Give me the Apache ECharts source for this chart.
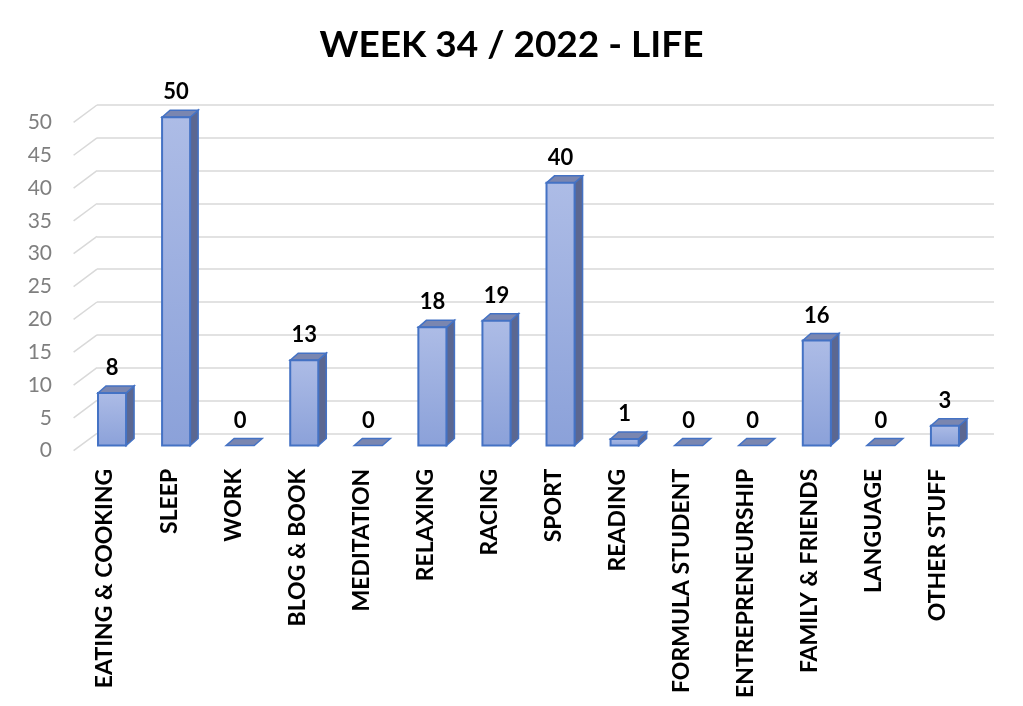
<!DOCTYPE html>
<html>
<head>
<meta charset="utf-8">
<title>WEEK 34 / 2022 - LIFE</title>
<script src="https://cdn.jsdelivr.net/npm/echarts@6/dist/echarts.min.js"></script>
<style>
	html, body { margin: 0; padding: 0; background: #fff; }
	#chart { width: 1023px; height: 706px; }
</style>
</head>
<body>
<div id="chart"></div>
<script>
	// categories and hours of the week
	var categories = ['EATING & COOKING', 'SLEEP', 'WORK', 'BLOG & BOOK', 'MEDITATION', 'RELAXING', 'RACING',
		'SPORT', 'READING', 'FORMULA STUDENT', 'ENTREPRENEURSHIP', 'FAMILY & FRIENDS', 'LANGUAGE', 'OTHER STUFF']
	var hours = [8, 50, 0, 13, 0, 18, 19, 40, 1, 0, 0, 16, 0, 3]
	var yTicks = [0, 5, 10, 15, 20, 25, 30, 35, 40, 45, 50]

	var FONT = 'Lato'
	var GRID_COLOR = '#d9d9d9'
	var BLUE = '#4472c4'
	// fake 3d: depth of the floor and of a bar, in px
	var FLOOR_DX = 23.4, FLOOR_DY = 17.4
	var BAR_DX = 8, BAR_DY = 7

	var chart = echarts.init(document.getElementById('chart'))

	// diagonals on the left side, from the front edge to the back wall
	function renderDiagonal(params, api) {
		var p = api.coord([0, api.value(1)])
		return {
			type: 'line',
			shape: { x1: p[0] - FLOOR_DX, y1: p[1] + FLOOR_DY, x2: p[0], y2: p[1] },
			style: { stroke: GRID_COLOR, lineWidth: 1.5 },
			silent: true
		}
	}

	// one 3d column: side, top and front faces + value label
	function renderBar(params, api) {
		var i = api.value(0)
		var v = api.value(1)
		var base = api.coord([i, 0])
		var top = api.coord([i, v])
		var half = api.size([1, 0])[0] * 0.219
		var l = base[0] - half, r = base[0] + half
		var y0 = base[1], y1 = top[1]
		var children = []
		if (v > 0) {
			children.push({
				type: 'polygon',
				shape: { points: [[r, y0], [r, y1], [r + BAR_DX, y1 - BAR_DY], [r + BAR_DX, y0 - BAR_DY]] },
				style: { fill: '#5b6791', stroke: BLUE, lineWidth: 1.5 }
			})
		}
		children.push({
			type: 'polygon',
			shape: { points: [[l, y1], [r, y1], [r + BAR_DX, y1 - BAR_DY], [l + BAR_DX, y1 - BAR_DY]] },
			style: { fill: '#7a86b0', stroke: BLUE, lineWidth: 1.5 }
		})
		if (v > 0) {
			children.push({
				type: 'rect',
				shape: { x: l, y: y1, width: r - l, height: y0 - y1 },
				style: {
					fill: new echarts.graphic.LinearGradient(0, 0, 0, 1, [
						{ offset: 0, color: '#adbce6' },
						{ offset: 1, color: '#8ba1d9' }
					]),
					stroke: BLUE, lineWidth: 2
				}
			})
		}
		children.push({
			type: 'text',
			style: {
				text: String(v), x: base[0], y: y1 - BAR_DY - 18,
				align: 'center', verticalAlign: 'middle',
				font: 'bold 22px ' + FONT, fill: '#000'
			}
		})
		return { type: 'group', children: children }
	}

	chart.setOption({
		animation: false,
		title: {
			text: 'WEEK 34 / 2022 - LIFE',
			left: 'center',
			top: 22,
			textStyle: { fontFamily: FONT, fontWeight: 'bold', fontSize: 37, color: '#000' }
		},
		grid: [
			// 0: back wall
			{ left: 97, top: 105, width: 897, height: 328.3 },
			// 1: front plane of the columns
			{ left: 80, top: 117.2, width: 897, height: 328.3 },
			// 2: front edge of the floor (labels)
			{ left: 73, top: 122.4, width: 897, height: 328.3 }
		],
		xAxis: [
			{ gridIndex: 0, type: 'value', min: 0, max: categories.length, show: false },
			{ gridIndex: 1, type: 'category', data: categories, show: false },
			{
				gridIndex: 2, type: 'category', data: categories,
				axisLine: { show: false }, axisTick: { show: false },
				axisLabel: {
					rotate: 90, margin: 18, interval: 0,
					fontFamily: FONT, fontWeight: 'bold', fontSize: 23, color: '#000'
				}
			}
		],
		yAxis: [
			{
				gridIndex: 0, type: 'value', min: 0, max: 50, interval: 5,
				axisLine: { show: false }, axisTick: { show: false }, axisLabel: { show: false },
				splitLine: { lineStyle: { color: GRID_COLOR, width: 1.5 } }
			},
			{ gridIndex: 1, type: 'value', min: 0, max: 50, interval: 5, show: false },
			{
				gridIndex: 2, type: 'value', min: 0, max: 50, interval: 5,
				axisLine: { show: false }, axisTick: { show: false }, splitLine: { show: false },
				axisLabel: { margin: 21, fontFamily: FONT, fontSize: 21, color: '#7f7f7f' }
			}
		],
		series: [
			{
				type: 'custom', xAxisIndex: 0, yAxisIndex: 0,
				renderItem: renderDiagonal,
				data: yTicks.map(function (t) { return [0, t] })
			},
			{
				type: 'custom', xAxisIndex: 1, yAxisIndex: 1,
				renderItem: renderBar,
				data: hours.map(function (h, i) { return [i, h] })
			}
		]
	})
</script>
</body>
</html>
